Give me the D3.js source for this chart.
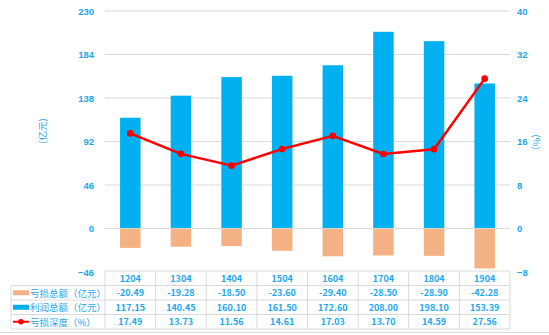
<!DOCTYPE html>
<html>
<head>
<meta charset="utf-8">
<script src="https://cdn.jsdelivr.net/npm/d3@7/dist/d3.min.js"></script>
<style>
  html, body { margin: 0; padding: 0; background: #fff; }
  svg { display: block; font-family: "Microsoft YaHei", "Noto Sans CJK SC", sans-serif; }
</style>
</head>
<body>
<svg id="chart" width="549" height="335"></svg>
<script>
// Quarterly periods
const periods = ["1204", "1304", "1404", "1504", "1604", "1704", "1804", "1904"];
// 亏损总额（亿元）
const lossTotal = [-20.49, -19.28, -18.50, -23.60, -29.40, -28.50, -28.90, -42.28];
// 利润总额（亿元）
const profitTotal = [117.15, 140.45, 160.10, 161.50, 172.60, 208.00, 198.10, 153.39];
// 亏损深度（%）
const lossDepth = [17.49, 13.73, 11.56, 14.61, 17.03, 13.70, 14.59, 27.56];

const leftTicks = [-46, 0, 46, 92, 138, 184, 230];
const rightTicks = [-8, 0, 8, 16, 24, 32, 40];

const seriesNames = ["亏损总额（亿元）", "利润总额（亿元）", "亏损深度（%）"];

const C_BLUE = "#00B0F0", C_ORANGE = "#F4B183", C_RED = "#FF0000";
const C_TEXT = "#1AA7EC", C_GRID = "#D9D9D9";

const svg = d3.select("#chart");
const plotLeft = 105, plotRight = 510, plotTop = 11, plotBottom = 272;

const x = d3.scaleBand().domain(periods).range([plotLeft, plotRight]).paddingInner(0).paddingOuter(0);
const yL = d3.scaleLinear().domain([-46, 230]).range([plotBottom, plotTop]);
const yR = d3.scaleLinear().domain([-8, 40]).range([plotBottom, plotTop]);

// gridlines
svg.append("g").selectAll("line").data(leftTicks.filter(d => d !== -46)).join("line")
  .attr("x1", plotLeft).attr("x2", plotRight)
  .attr("y1", d => yL(d)).attr("y2", d => yL(d))
  .attr("stroke", C_GRID).attr("stroke-width", 1);

// left axis
const axL = svg.append("g").attr("transform", `translate(${plotLeft - 11},0)`)
  .call(d3.axisLeft(yL).tickValues(leftTicks).tickSize(0).tickPadding(0));
axL.select(".domain").remove();
axL.selectAll("text").attr("fill", C_TEXT).attr("font-size", 9.5).attr("font-weight", "bold");

// right axis
const axR = svg.append("g").attr("transform", `translate(${plotRight + 7},0)`)
  .call(d3.axisRight(yR).tickValues(rightTicks).tickSize(0).tickPadding(0));
axR.select(".domain").remove();
axR.selectAll("text").attr("fill", C_TEXT).attr("font-size", 9.5).attr("font-weight", "bold");

// axis titles
svg.append("text").attr("transform", `translate(42,131) rotate(-90)`)
  .attr("text-anchor", "middle").attr("dominant-baseline", "central")
  .attr("fill", C_TEXT).attr("font-size", 9.5).text("(亿元)");
svg.append("text").attr("transform", `translate(537,142) rotate(90)`)
  .attr("text-anchor", "middle").attr("dominant-baseline", "central")
  .attr("fill", C_TEXT).attr("font-size", 9.5).text("(%)");

const barW = x.bandwidth() * 0.405;
// profit bars
svg.append("g").selectAll("rect").data(periods).join("rect")
  .attr("x", d => x(d) + x.bandwidth() / 2 - barW / 2)
  .attr("width", barW)
  .attr("y", (d, i) => yL(profitTotal[i]))
  .attr("height", (d, i) => yL(0) - yL(profitTotal[i]))
  .attr("fill", C_BLUE);
// loss bars
svg.append("g").selectAll("rect").data(periods).join("rect")
  .attr("x", d => x(d) + x.bandwidth() / 2 - barW / 2)
  .attr("width", barW)
  .attr("y", yL(0))
  .attr("height", (d, i) => yL(lossTotal[i]) - yL(0))
  .attr("fill", C_ORANGE);

// zero line
svg.append("line").attr("x1", plotLeft).attr("x2", plotRight)
  .attr("y1", yL(0)).attr("y2", yL(0)).attr("stroke", C_GRID);

// loss depth line
const line = d3.line().x((d, i) => x(periods[i]) + x.bandwidth() / 2).y(d => yR(d));
svg.append("path").datum(lossDepth).attr("d", line)
  .attr("fill", "none").attr("stroke", C_RED).attr("stroke-width", 2.5).attr("stroke-linejoin", "round");
svg.append("g").selectAll("circle").data(lossDepth).join("circle")
  .attr("cx", (d, i) => x(periods[i]) + x.bandwidth() / 2)
  .attr("cy", d => yR(d)).attr("r", 3.3).attr("fill", C_RED);

// data table
const rowY = [271, 285.5, 300, 314.5, 329];
const tableLeft = 11;
const tg = svg.append("g");
const gridStroke = "#D9D9D9";
// horizontal lines
tg.append("line").attr("x1", plotLeft).attr("x2", plotRight).attr("y1", rowY[0]).attr("y2", rowY[0]).attr("stroke", gridStroke);
for (let r = 1; r < rowY.length; r++) {
  tg.append("line").attr("x1", tableLeft).attr("x2", plotRight).attr("y1", rowY[r]).attr("y2", rowY[r]).attr("stroke", gridStroke);
}
// vertical lines
tg.append("line").attr("x1", tableLeft).attr("x2", tableLeft).attr("y1", rowY[1]).attr("y2", rowY[4]).attr("stroke", gridStroke);
periods.forEach(p => {
  tg.append("line").attr("x1", x(p)).attr("x2", x(p)).attr("y1", rowY[0]).attr("y2", rowY[4]).attr("stroke", gridStroke);
});
tg.append("line").attr("x1", plotRight).attr("x2", plotRight).attr("y1", rowY[0]).attr("y2", rowY[4]).attr("stroke", gridStroke);

const cellText = (tx, ty, s) => tg.append("text").attr("x", tx).attr("y", ty)
  .attr("text-anchor", "middle").attr("dominant-baseline", "central")
  .attr("fill", C_TEXT).attr("font-size", 9).attr("font-weight", "bold").text(s);

periods.forEach((p, i) => {
  const cx = x(p) + x.bandwidth() / 2;
  cellText(cx, (rowY[0] + rowY[1]) / 2, p);
  cellText(cx, (rowY[1] + rowY[2]) / 2, lossTotal[i].toFixed(2));
  cellText(cx, (rowY[2] + rowY[3]) / 2, profitTotal[i].toFixed(2));
  cellText(cx, (rowY[3] + rowY[4]) / 2, lossDepth[i].toFixed(2));
});

// legend keys in table
const keyY = r => (rowY[r] + rowY[r + 1]) / 2;
tg.append("rect").attr("x", 13).attr("y", keyY(1) - 2.5).attr("width", 16).attr("height", 5).attr("fill", C_ORANGE);
tg.append("rect").attr("x", 13).attr("y", keyY(2) - 2.5).attr("width", 16).attr("height", 5).attr("fill", C_BLUE);
tg.append("line").attr("x1", 13).attr("x2", 29).attr("y1", keyY(3)).attr("y2", keyY(3)).attr("stroke", C_RED).attr("stroke-width", 2);
tg.append("circle").attr("cx", 21).attr("cy", keyY(3)).attr("r", 2.8).attr("fill", C_RED);
seriesNames.forEach((n, i) => {
  tg.append("text").attr("x", 30).attr("y", keyY(i + 1))
    .attr("dominant-baseline", "central").attr("fill", C_TEXT)
    .attr("font-size", 9.5).text(n);
});

// bottom rule
svg.append("line").attr("x1", 0).attr("x2", 549).attr("y1", 332.5).attr("y2", 332.5).attr("stroke", "#D9D9D9");
</script>
</body>
</html>
